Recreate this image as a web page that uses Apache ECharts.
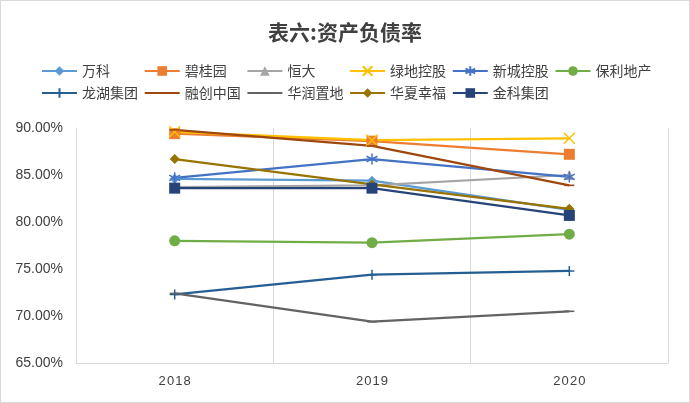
<!DOCTYPE html>
<html><head><meta charset="utf-8">
<script src="https://cdn.jsdelivr.net/npm/echarts@6/dist/echarts.min.js"></script>
<style>html,body{margin:0;padding:0;background:#fff}#c{width:690px;height:403px;box-sizing:border-box;border:1px solid #d9d9d9}</style>
</head><body><div id="c"></div>
<script>
const categories = ['2018','2019','2020'];
const yTicks = [65,70,75,80,85,90];
const names = ['万科','碧桂园','恒大','绿地控股','新城控股','保利地产','龙湖集团','融创中国','华润置地','华夏幸福','金科集团'];
const vanke   = [84.6, 84.4, 81.3];
const bgy     = [89.4, 88.6, 87.2];
const evergrande = [83.7, 83.9, 85.0];
const greenland = [89.6, 88.7, 88.9];
const seazen  = [84.7, 86.7, 84.8];
const poly    = [78.0, 77.8, 78.7];
const longfor = [72.3, 74.4, 74.8];
const sunac   = [89.8, 88.1, 83.9];
const crland  = [72.4, 69.4, 70.5];
const cfld    = [86.7, 84.0, 81.4];
const jinke   = [83.6, 83.6, 80.7];
const values = [vanke,bgy,evergrande,greenland,seazen,poly,longfor,sunac,crland,cfld,jinke];
const colors = ['#5B9BD5','#ED7D31','#A5A5A5','#FFC000','#4472C4','#70AD47','#255E91','#9E480E','#636363','#997300','#264478'];
const dash = 'path://M0,0L0,0M0,4.2L10,4.2L10,5.8L0,5.8ZM10,10L10,10';
const symbols = ['diamond','rect','triangle',
  'path://M0,0L10,10M10,0L0,10',
  'path://M5,0L5,10M0.7,2.5L9.3,7.5M0.7,7.5L9.3,2.5',
  'circle',
  'path://M5,0L5,10M0,5L10,5',
  dash, dash,
  'diamond','rect'];
const sizes = [10,11,10,11,11,11,10,10,10,10,11];

const series = names.map((n,i)=>({
  name:n, type:'line', data:values[i], symbol:symbols[i], symbolSize:sizes[i],
  lineStyle:{color:colors[i],width:2.25},
  itemStyle:{color:colors[i],borderColor:colors[i],borderWidth:(i===3||i===4||i===6)?1.5:0},
  emphasis:{disabled:true}, animation:false
}));

const legends = names.map((n,i)=>({
  data:[n], left:40 + (i%6)*102.7, top: i<6 ? 63 : 85, padding:0,
  itemWidth:35, itemHeight:12, itemGap:0, selectedMode:false,
  textStyle:{fontSize:14,color:'#404040',fontFamily:'"Noto Sans CJK SC", sans-serif'}
}));

const chart = echarts.init(document.getElementById('c'));
chart.setOption({
  animation:false,
  color:colors,
  title:{text:'表六:资产负债率',left:'center',top:16,textStyle:{fontSize:21,fontWeight:'bold',color:'#404040',fontFamily:'"Noto Sans CJK SC", sans-serif'}},
  legend:legends,
  grid:{left:75,right:21,top:127,bottom:39},
  xAxis:{type:'category',data:categories,boundaryGap:true,
    axisLine:{lineStyle:{color:'#d9d9d9'}},axisTick:{show:false},
    axisLabel:{color:'#404040',fontSize:13,margin:12,fontFamily:'"Liberation Sans", Arial, sans-serif',formatter:v=>v.split('').join('\u200A')},
    splitLine:{show:true,lineStyle:{color:'#d9d9d9'}}},
  yAxis:{type:'value',min:yTicks[0],max:yTicks[yTicks.length-1],interval:5,
    axisLine:{show:true,lineStyle:{color:'#d9d9d9'}},axisTick:{show:false},splitLine:{show:false},
    axisLabel:{color:'#404040',fontSize:14,margin:13,fontFamily:'"Liberation Sans", Arial, sans-serif',formatter:v=>v.toFixed(2)+'%'}},
  series:series
});
</script></body></html>
